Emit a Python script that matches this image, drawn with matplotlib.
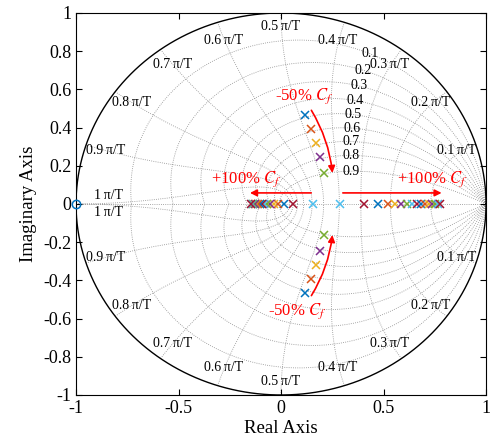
import numpy as np
import matplotlib

matplotlib.use("Agg")
import matplotlib.pyplot as plt
from matplotlib.patches import FancyArrowPatch

plt.rcParams["font.family"] = ["Liberation Serif", "DejaVu Serif"]
plt.rcParams["mathtext.fontset"] = "stix"
plt.rcParams["axes.unicode_minus"] = False

# MATLAB default colour order, cycled over the pole sets
COLORS = ["#0072BD", "#D95319", "#EDB120", "#7E2F8E", "#77AC30", "#4DBEEE", "#A2142F"]

# complex conjugate pole pairs (first five sets)
complex_re = [0.117, 0.146, 0.171, 0.190, 0.210]
complex_im = [0.465, 0.393, 0.320, 0.247, 0.160]

# real pole pairs (following sets): left and right pole of each pair
real_left = [0.156, 0.059, 0.015, -0.015, -0.034, -0.054, -0.068, -0.083,
             -0.093, -0.102, -0.112, -0.122, -0.127, -0.137, -0.141, -0.146]
real_right = [0.288, 0.405, 0.473, 0.522, 0.556, 0.585, 0.615, 0.639,
              0.663, 0.683, 0.702, 0.722, 0.737, 0.751, 0.766, 0.776]

zero_re = [-1.0]

damping = [0.1, 0.2, 0.3, 0.4, 0.5, 0.6, 0.7, 0.8, 0.9]
wn_frac = [0.1, 0.2, 0.3, 0.4, 0.5, 0.6, 0.7, 0.8, 0.9, 1.0]
wn_labels = ["0.1", "0.2", "0.3", "0.4", "0.5", "0.6", "0.7", "0.8", "0.9", "1"]

x_ticks = [-1, -0.5, 0, 0.5, 1]
x_ticklabels = ["-1", "-0.5", "0", "0.5", "1"]
y_ticks = [-1, -0.8, -0.6, -0.4, -0.2, 0, 0.2, 0.4, 0.6, 0.8, 1]
y_ticklabels = ["-1", "-0.8", "-0.6", "-0.4", "-0.2", "0", "0.2", "0.4", "0.6", "0.8", "1"]

RED = "#FF0000"

fig = plt.figure(figsize=(4.93, 4.45), dpi=100)
ax = fig.add_axes([0.1542, 0.1124, 0.8316, 0.8584])

grid_kw = dict(color="0.55", linestyle=(0, (1, 1.6)), linewidth=0.6, zorder=1)

# damping ratio curves
theta = np.linspace(0, np.pi, 300)
for zeta in damping:
    m = np.tan(np.arcsin(zeta))
    r = np.exp(-m * theta)
    ax.plot(r * np.cos(theta), r * np.sin(theta), **grid_kw)
    ax.plot(r * np.cos(theta), -r * np.sin(theta), **grid_kw)

# natural frequency curves
zz = np.linspace(0, 1, 200)
for w in wn_frac:
    s = w * np.pi * (-zz + 1j * np.sqrt(1 - zz**2))
    z = np.exp(s)
    ax.plot(z.real, z.imag, **grid_kw)
    ax.plot(z.real, -z.imag, **grid_kw)

ax.plot([-1, 1], [0, 0], **grid_kw)

# unit circle
t = np.linspace(0, 2 * np.pi, 400)
ax.plot(np.cos(t), np.sin(t), color="black", linewidth=1.0, zorder=2)

# damping labels
for zeta in damping:
    p = np.exp(1.07 * (-zeta + 1j * np.sqrt(1 - zeta**2)))
    ax.text(p.real, p.imag, f"{zeta:g}", fontsize=10, ha="center", va="center", zorder=3)

# natural frequency labels
for w, lab in zip(wn_frac, wn_labels):
    txt = f"{lab}\u2009π/T"
    ang = w * np.pi
    if w == 1.0:
        ax.text(-0.91, 0.012, txt, fontsize=10, ha="left", va="bottom", zorder=3)
        ax.text(-0.91, -0.012, txt, fontsize=10, ha="left", va="top", zorder=3)
        continue
    rad = 0.93 if w == 0.5 else 0.9
    px, py = rad * np.cos(ang), rad * np.sin(ang)
    ax.text(px, py, txt, fontsize=10, ha="center", va="center", zorder=3)
    ax.text(px, -py, txt, fontsize=10, ha="center", va="center", zorder=3)

# poles
mk = dict(marker="x", linestyle="none", markersize=5.5, markeredgewidth=1.1, zorder=5)
n_sets = 0
for re, im in zip(complex_re, complex_im):
    ax.plot([re, re], [im, -im], color=COLORS[n_sets % 7], **mk)
    n_sets += 1
for a, b in zip(real_left, real_right):
    ax.plot([a, b], [0, 0], color=COLORS[n_sets % 7], **mk)
    n_sets += 1

# zero
ax.plot(zero_re, [0], marker="o", linestyle="none", markersize=6, markerfacecolor="none",
        markeredgecolor=COLORS[0], markeredgewidth=1.1, zorder=5, clip_on=False)

# annotations
arrow_kw = dict(arrowstyle="-|>", mutation_scale=10, color=RED, linewidth=1.2, zorder=6)
ax.add_patch(FancyArrowPatch((0.141, 0.503), (0.252, 0.148),
                             connectionstyle="arc3,rad=-0.12", **arrow_kw))
ax.add_patch(FancyArrowPatch((0.141, -0.492), (0.252, -0.148),
                             connectionstyle="arc3,rad=0.12", **arrow_kw))
ax.add_patch(FancyArrowPatch((0.161, 0.058), (-0.165, 0.058), **arrow_kw))
ax.add_patch(FancyArrowPatch((0.288, 0.058), (0.797, 0.058), **arrow_kw))

red_txt = dict(color=RED, fontsize=12, ha="center", va="center", zorder=6)
ax.text(0.112, 0.565, r"-50% $C_f$", **red_txt)
ax.text(0.077, -0.56, r"-50% $C_f$", **red_txt)
ax.text(-0.17, 0.13, r"+100% $C_f$", **red_txt)
ax.text(0.735, 0.13, r"+100% $C_f$", **red_txt)

ax.set_xlim(-1, 1)
ax.set_ylim(-1, 1)
ax.set_xticks(x_ticks, x_ticklabels)
ax.set_yticks(y_ticks, y_ticklabels)
ax.tick_params(direction="in", top=True, right=True, length=4, width=0.8, labelsize=13)
for sp in ax.spines.values():
    sp.set_linewidth(0.8)
ax.set_xlabel("Real Axis", fontsize=13.5, labelpad=2)
ax.set_ylabel("Imaginary Axis", fontsize=13.5, labelpad=4)

fig.savefig("out.png", dpi=100)
